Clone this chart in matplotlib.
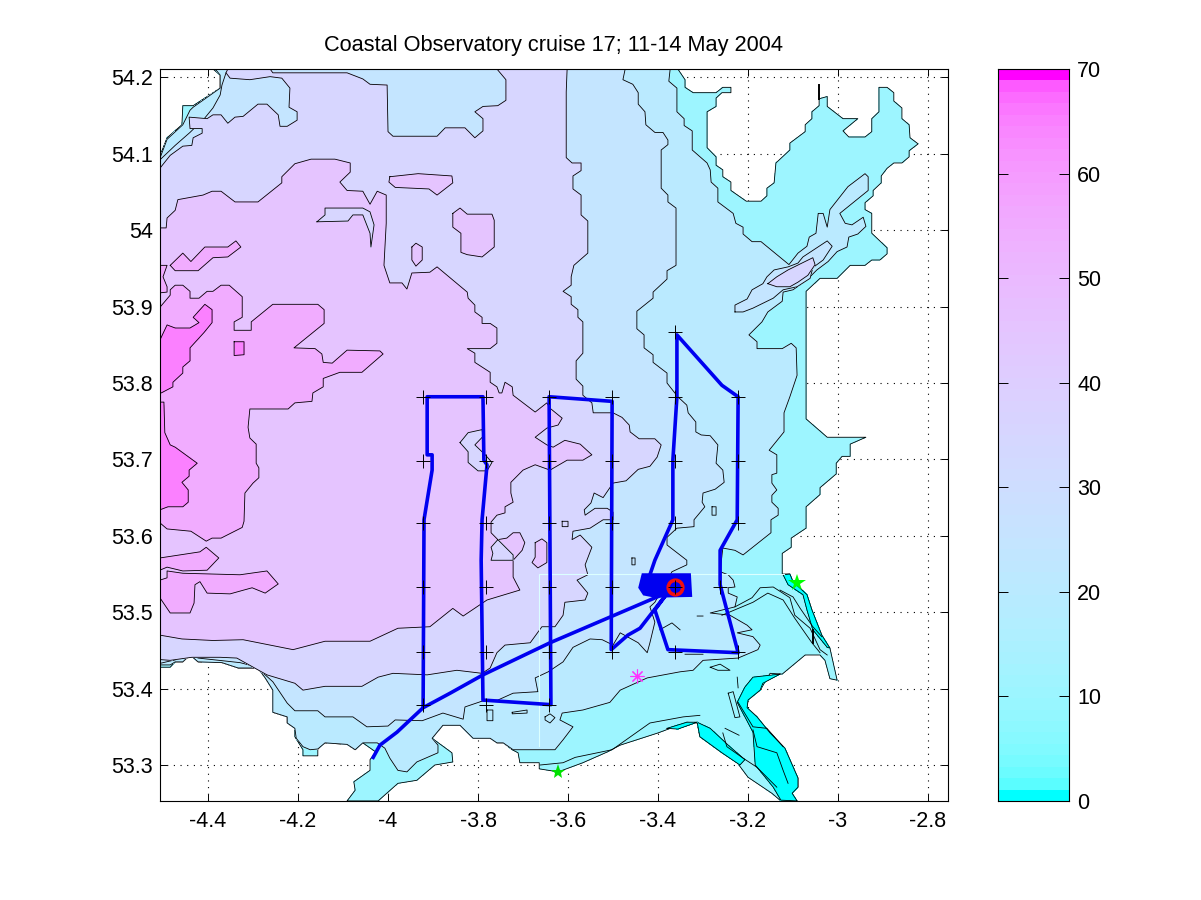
import numpy as np
import matplotlib
matplotlib.use("Agg")
import matplotlib.pyplot as plt
from matplotlib.colors import ListedColormap

plt.rcParams['font.family'] = ['Liberation Sans', 'DejaVu Sans']

TITLE = "Coastal Observatory cruise 17; 11-14 May 2004"
LON_TICKS = [-4.4, -4.2, -4.0, -3.8, -3.6, -3.4, -3.2, -3.0, -2.8]
LAT_TICKS = [53.3, 53.4, 53.5, 53.6, 53.7, 53.8, 53.9, 54.0, 54.1, 54.2]
CBAR_TICKS = [0, 10, 20, 30, 40, 50, 60, 70]

SEA = [(-4.507,54.097),(-4.491,54.121),(-4.458,54.138),(-4.456,54.163),(-4.433,54.163),(-4.373,54.186),(-4.373,54.203),(-4.389,54.211),(-3.356,54.211),(-3.340,54.197),(-3.340,54.187),(-3.322,54.180),(-3.271,54.180),(-3.256,54.187),(-3.238,54.187),(-3.238,54.180),(-3.258,54.180),(-3.271,54.173),(-3.271,54.162),(-3.291,54.155),(-3.291,54.108),(-3.271,54.096),(-3.271,54.085),(-3.256,54.079),(-3.256,54.070),(-3.238,54.063),(-3.238,54.052),(-3.204,54.038),(-3.171,54.038),(-3.158,54.045),(-3.158,54.055),(-3.142,54.062),(-3.138,54.088),(-3.107,54.105),(-3.107,54.114),(-3.073,54.129),(-3.073,54.138),(-3.058,54.146),(-3.058,54.155),(-3.042,54.163),(-3.042,54.172),(-3.024,54.175),(-3.024,54.162),(-2.989,54.146),(-2.956,54.146),(-2.989,54.130),(-2.976,54.122),(-2.940,54.122),(-2.925,54.129),(-2.925,54.146),(-2.909,54.155),(-2.909,54.187),(-2.891,54.187),(-2.876,54.180),(-2.876,54.169),(-2.858,54.160),(-2.858,54.146),(-2.842,54.138),(-2.840,54.121),(-2.822,54.113),(-2.842,54.104),(-2.842,54.096),(-2.858,54.088),(-2.876,54.088),(-2.891,54.081),(-2.904,54.071),(-2.904,54.062),(-2.922,54.052),(-2.922,54.045),(-2.940,54.036),(-2.940,54.027),(-2.925,54.022),(-2.925,53.996),(-2.891,53.977),(-2.891,53.969),(-2.907,53.961),(-2.925,53.961),(-2.940,53.954),(-2.973,53.954),(-3.002,53.937),(-3.040,53.937),(-3.071,53.920),(-3.071,53.753),(-3.024,53.729),(-2.938,53.729),(-2.973,53.720),(-2.973,53.704),(-2.991,53.704),(-3.004,53.695),(-3.004,53.681),(-3.040,53.663),(-3.040,53.654),(-3.071,53.638),(-3.071,53.610),(-3.104,53.597),(-3.104,53.585),(-3.124,53.577),(-3.124,53.550),(-3.107,53.550),(-3.100,53.540),(-3.069,53.523),(-3.058,53.503),(-3.036,53.470),(-3.018,53.453),(-3.002,53.411),(-3.018,53.413),(-3.029,53.437),(-3.040,53.444),(-3.073,53.444),(-3.124,53.419),(-3.151,53.420),(-3.173,53.398),(-3.200,53.385),(-3.202,53.375),(-3.180,53.363),(-3.151,53.342),(-3.118,53.322),(-3.089,53.283),(-3.089,53.271),(-3.102,53.263),(-3.091,53.253),(-3.127,53.253),(-3.147,53.263),(-3.200,53.284),(-3.224,53.303),(-3.258,53.316),(-3.307,53.337),(-3.313,53.355),(-3.336,53.356),(-3.400,53.342),(-3.484,53.326),(-3.513,53.317),(-3.567,53.303),(-3.622,53.291),(-3.664,53.295),(-3.664,53.303),(-3.707,53.303),(-3.711,53.316),(-3.724,53.320),(-3.744,53.329),(-3.758,53.329),(-3.773,53.335),(-3.811,53.335),(-3.840,53.352),(-3.878,53.352),(-3.902,53.335),(-3.858,53.316),(-3.856,53.304),(-3.896,53.300),(-3.936,53.280),(-3.978,53.276),(-4.022,53.253),(-4.091,53.253),(-4.073,53.267),(-4.076,53.278),(-4.040,53.293),(-4.040,53.307),(-4.027,53.317),(-4.056,53.329),(-4.073,53.320),(-4.091,53.327),(-4.140,53.329),(-4.156,53.321),(-4.156,53.312),(-4.189,53.312),(-4.189,53.320),(-4.207,53.337),(-4.207,53.348),(-4.224,53.355),(-4.224,53.363),(-4.256,53.369),(-4.256,53.398),(-4.273,53.414),(-4.289,53.427),(-4.333,53.427),(-4.369,53.434),(-4.422,53.435),(-4.440,53.444),(-4.456,53.435),(-4.473,53.435),(-4.484,53.428),(-4.507,53.428)]

SHALLOW = [
 [(-3.129,53.419),(-3.189,53.415),(-3.207,53.402),(-3.224,53.382),(-3.189,53.343),(-3.184,53.300),(-3.144,53.271),(-3.127,53.254),(-3.091,53.253),(-3.102,53.263),(-3.089,53.271),(-3.089,53.283),(-3.118,53.322),(-3.151,53.342),(-3.180,53.363),(-3.202,53.375),(-3.200,53.385),(-3.173,53.398),(-3.167,53.407)],
 [(-3.313,53.356),(-3.307,53.337),(-3.258,53.316),(-3.218,53.300),(-3.207,53.307),(-3.244,53.326),(-3.284,53.348)],
 [(-3.380,53.348),(-3.336,53.356),(-3.313,53.356),(-3.356,53.347)],
 [(-3.122,53.549),(-3.107,53.550),(-3.100,53.540),(-3.069,53.523),(-3.058,53.503),(-3.036,53.470),(-3.018,53.453),(-3.024,53.454),(-3.056,53.477),(-3.069,53.503),(-3.078,53.523),(-3.111,53.536)],
]

LEVEL20 = [(-4.507,54.094),(-4.491,54.119),(-4.456,54.138),(-4.440,54.157),(-4.433,54.161),(-4.373,54.186),(-4.373,54.203),(-4.384,54.211),(-3.373,54.211),(-3.376,54.195),(-3.358,54.186),(-3.358,54.155),(-3.342,54.146),(-3.342,54.137),(-3.324,54.130),(-3.324,54.105),(-3.291,54.088),(-3.284,54.079),(-3.282,54.063),(-3.267,54.055),(-3.267,54.037),(-3.233,54.022),(-3.227,54.009),(-3.211,54.004),(-3.211,53.995),(-3.191,53.985),(-3.171,53.985),(-3.109,53.955),(-3.089,53.970),(-3.069,53.979),(-3.064,53.991),(-3.049,53.996),(-3.044,54.022),(-3.033,54.022),(-3.024,54.004),(-3.018,54.027),(-2.978,54.057),(-2.940,54.074),(-2.933,54.070),(-2.933,54.052),(-2.996,54.022),(-2.984,54.009),(-2.969,54.007),(-2.944,54.017),(-2.938,54.005),(-2.956,53.995),(-2.976,53.991),(-2.980,53.978),(-3.002,53.972),(-3.022,53.959),(-3.047,53.948),(-3.069,53.935),(-3.100,53.922),(-3.122,53.919),(-3.124,53.907),(-3.156,53.893),(-3.169,53.880),(-3.198,53.863),(-3.180,53.854),(-3.180,53.845),(-3.124,53.845),(-3.104,53.852),(-3.093,53.846),(-3.091,53.810),(-3.107,53.782),(-3.120,53.761),(-3.120,53.736),(-3.153,53.712),(-3.136,53.706),(-3.136,53.682),(-3.147,53.680),(-3.147,53.669),(-3.136,53.660),(-3.147,53.653),(-3.147,53.644),(-3.133,53.636),(-3.133,53.627),(-3.149,53.621),(-3.149,53.604),(-3.211,53.575),(-3.229,53.581),(-3.256,53.584),(-3.262,53.553),(-3.244,53.549),(-3.233,53.542),(-3.229,53.533),(-3.244,53.532),(-3.244,53.525),(-3.224,53.520),(-3.229,53.507),(-3.284,53.499),(-3.240,53.496),(-3.202,53.483),(-3.191,53.477),(-3.224,53.473),(-3.189,53.468),(-3.173,53.457),(-3.178,53.451),(-3.222,53.440),(-3.300,53.437),(-3.322,53.424),(-3.351,53.422),(-3.424,53.414),(-3.484,53.398),(-3.507,53.382),(-3.567,53.372),(-3.613,53.368),(-3.618,53.359),(-3.589,53.350),(-3.611,53.333),(-3.629,53.320),(-3.664,53.320),(-3.722,53.320),(-3.744,53.329),(-3.758,53.329),(-3.773,53.335),(-3.811,53.335),(-3.840,53.352),(-3.878,53.352),(-3.902,53.335),(-3.889,53.326),(-3.889,53.316),(-3.936,53.304),(-3.958,53.291),(-3.978,53.293),(-3.996,53.309),(-4.007,53.322),(-4.024,53.329),(-4.056,53.329),(-4.073,53.320),(-4.091,53.327),(-4.140,53.329),(-4.156,53.321),(-4.173,53.320),(-4.189,53.324),(-4.204,53.335),(-4.207,53.348),(-4.224,53.355),(-4.224,53.363),(-4.256,53.369),(-4.256,53.398),(-4.273,53.414),(-4.289,53.427),(-4.333,53.427),(-4.369,53.434),(-4.422,53.435),(-4.440,53.444),(-4.456,53.435),(-4.473,53.435),(-4.484,53.431),(-4.507,53.431)]

LEVEL25 = [(-4.507,53.433),(-4.507,54.092),(-4.473,54.111),(-4.440,54.128),(-4.407,54.147),(-4.389,54.160),(-4.373,54.177),(-4.369,54.190),(-4.360,54.206),(-4.356,54.211),(-3.473,54.211),(-3.478,54.197),(-3.456,54.191),(-3.444,54.180),(-3.444,54.165),(-3.429,54.155),(-3.427,54.138),(-3.407,54.128),(-3.389,54.128),(-3.378,54.118),(-3.378,54.112),(-3.393,54.105),(-3.393,54.055),(-3.378,54.046),(-3.378,54.037),(-3.360,54.029),(-3.360,53.954),(-3.380,53.947),(-3.380,53.936),(-3.411,53.919),(-3.411,53.911),(-3.447,53.894),(-3.447,53.871),(-3.431,53.863),(-3.431,53.846),(-3.411,53.837),(-3.411,53.827),(-3.380,53.813),(-3.380,53.800),(-3.356,53.782),(-3.336,53.771),(-3.333,53.761),(-3.316,53.749),(-3.316,53.736),(-3.304,53.732),(-3.284,53.731),(-3.267,53.719),(-3.271,53.695),(-3.256,53.686),(-3.253,53.670),(-3.273,53.661),(-3.300,53.656),(-3.302,53.644),(-3.296,53.638),(-3.320,53.621),(-3.320,53.612),(-3.358,53.610),(-3.380,53.598),(-3.380,53.588),(-3.336,53.568),(-3.336,53.562),(-3.369,53.553),(-3.407,53.513),(-3.418,53.507),(-3.407,53.487),(-3.418,53.460),(-3.424,53.447),(-3.444,53.460),(-3.484,53.473),(-3.500,53.457),(-3.524,53.464),(-3.551,53.465),(-3.589,53.454),(-3.611,53.435),(-3.644,53.422),(-3.673,53.414),(-3.667,53.396),(-3.722,53.394),(-3.756,53.385),(-3.789,53.384),(-3.829,53.376),(-3.833,53.360),(-3.878,53.368),(-3.924,53.358),(-3.984,53.359),(-4.000,53.351),(-4.047,53.350),(-4.078,53.363),(-4.140,53.363),(-4.156,53.371),(-4.207,53.371),(-4.224,53.381),(-4.256,53.409),(-4.273,53.418),(-4.289,53.428),(-4.329,53.434),(-4.422,53.440),(-4.440,53.445),(-4.456,53.440)]

LEVEL35 = [(-4.507,53.438),(-4.507,54.081),(-4.484,54.098),(-4.456,54.110),(-4.436,54.111),(-4.433,54.121),(-4.413,54.127),(-4.413,54.133),(-4.440,54.133),(-4.442,54.148),(-4.402,54.146),(-4.389,54.151),(-4.371,54.151),(-4.356,54.140),(-4.340,54.148),(-4.322,54.149),(-4.289,54.165),(-4.269,54.165),(-4.244,54.151),(-4.240,54.136),(-4.224,54.136),(-4.202,54.144),(-4.202,54.155),(-4.220,54.161),(-4.218,54.186),(-4.236,54.199),(-4.262,54.201),(-4.307,54.197),(-4.351,54.199),(-4.360,54.206),(-4.356,54.211),(-4.262,54.211),(-4.256,54.206),(-4.091,54.206),(-4.056,54.198),(-4.040,54.191),(-4.002,54.190),(-4.000,54.129),(-3.989,54.123),(-3.891,54.123),(-3.873,54.134),(-3.829,54.134),(-3.807,54.121),(-3.789,54.130),(-3.789,54.146),(-3.807,54.155),(-3.789,54.162),(-3.756,54.163),(-3.738,54.170),(-3.738,54.197),(-3.758,54.211),(-3.602,54.211),(-3.604,54.181),(-3.604,54.095),(-3.591,54.088),(-3.571,54.088),(-3.571,54.078),(-3.589,54.071),(-3.589,54.054),(-3.571,54.046),(-3.571,54.020),(-3.556,54.012),(-3.556,53.970),(-3.587,53.954),(-3.593,53.939),(-3.593,53.928),(-3.611,53.920),(-3.593,53.913),(-3.593,53.903),(-3.578,53.896),(-3.578,53.886),(-3.567,53.880),(-3.567,53.839),(-3.582,53.829),(-3.582,53.805),(-3.567,53.796),(-3.567,53.784),(-3.547,53.774),(-3.544,53.761),(-3.500,53.761),(-3.480,53.755),(-3.464,53.745),(-3.462,53.736),(-3.442,53.727),(-3.407,53.727),(-3.393,53.719),(-3.402,53.703),(-3.418,53.691),(-3.444,53.687),(-3.471,53.672),(-3.500,53.669),(-3.522,53.650),(-3.542,53.656),(-3.549,53.643),(-3.564,53.634),(-3.562,53.627),(-3.540,53.636),(-3.513,53.636),(-3.500,53.631),(-3.500,53.621),(-3.522,53.621),(-3.551,53.610),(-3.589,53.606),(-3.591,53.595),(-3.573,53.601),(-3.547,53.585),(-3.562,53.562),(-3.556,53.549),(-3.580,53.542),(-3.556,53.525),(-3.562,53.516),(-3.607,53.513),(-3.611,53.496),(-3.629,53.481),(-3.658,53.481),(-3.684,53.460),(-3.740,53.457),(-3.758,53.447),(-3.773,53.427),(-3.791,53.420),(-3.847,53.424),(-3.913,53.418),(-3.989,53.420),(-4.022,53.415),(-4.058,53.403),(-4.140,53.403),(-4.189,53.398),(-4.207,53.407),(-4.269,53.418),(-4.336,53.440),(-4.373,53.441),(-4.436,53.441),(-4.484,53.437)]

LEVEL45 = [(-4.507,54.003),(-4.493,54.003),(-4.491,54.016),(-4.473,54.026),(-4.467,54.040),(-4.411,54.046),(-4.391,54.051),(-4.371,54.051),(-4.340,54.037),(-4.289,54.037),(-4.236,54.062),(-4.236,54.070),(-4.207,54.087),(-4.171,54.093),(-4.118,54.093),(-4.084,54.088),(-4.084,54.076),(-4.107,54.063),(-4.091,54.052),(-4.056,54.051),(-4.040,54.034),(-4.024,54.051),(-4.004,54.046),(-4.004,54.009),(-4.009,53.954),(-3.996,53.931),(-3.969,53.931),(-3.958,53.923),(-3.947,53.944),(-3.907,53.945),(-3.891,53.952),(-3.824,53.919),(-3.822,53.911),(-3.807,53.902),(-3.807,53.893),(-3.791,53.886),(-3.791,53.878),(-3.773,53.878),(-3.758,53.872),(-3.758,53.852),(-3.773,53.845),(-3.824,53.845),(-3.807,53.839),(-3.807,53.827),(-3.773,53.814),(-3.773,53.801),(-3.758,53.795),(-3.753,53.787),(-3.747,53.787),(-3.740,53.801),(-3.724,53.795),(-3.722,53.784),(-3.673,53.762),(-3.647,53.774),(-3.640,53.767),(-3.613,53.754),(-3.622,53.745),(-3.647,53.741),(-3.673,53.729),(-3.647,53.719),(-3.633,53.716),(-3.607,53.725),(-3.573,53.720),(-3.547,53.706),(-3.567,53.699),(-3.602,53.699),(-3.640,53.686),(-3.673,53.693),(-3.700,53.686),(-3.727,53.670),(-3.727,53.656),(-3.722,53.644),(-3.740,53.638),(-3.740,53.630),(-3.758,53.627),(-3.771,53.618),(-3.771,53.604),(-3.756,53.595),(-3.736,53.597),(-3.722,53.604),(-3.707,53.604),(-3.696,53.591),(-3.702,53.581),(-3.722,53.568),(-3.722,53.546),(-3.707,53.529),(-3.780,53.516),(-3.833,53.495),(-3.856,53.505),(-3.907,53.481),(-3.978,53.479),(-4.040,53.462),(-4.140,53.462),(-4.211,53.451),(-4.322,53.464),(-4.389,53.463),(-4.458,53.465),(-4.507,53.470)]

ISLANDS45 = [
 [(-3.996,54.070),(-3.933,54.074),(-3.858,54.071),(-3.856,54.062),(-3.891,54.046),(-3.909,54.054),(-3.984,54.056),(-3.998,54.063)],
 [(-3.856,54.022),(-3.840,54.029),(-3.824,54.021),(-3.769,54.021),(-3.764,54.013),(-3.764,53.978),(-3.791,53.965),(-3.824,53.968),(-3.838,53.971),(-3.838,53.996),(-3.856,54.004)],
 [(-3.947,53.978),(-3.938,53.983),(-3.924,53.978),(-3.924,53.961),(-3.938,53.953),(-3.947,53.961)],
 [(-3.673,53.591),(-3.658,53.596),(-3.647,53.591),(-3.647,53.565),(-3.667,53.558),(-3.680,53.565),(-3.673,53.572)],
]
HOLES35 = [
 [(-4.158,54.011),(-4.140,54.020),(-4.140,54.029),(-4.056,54.029),(-4.040,54.024),(-4.031,54.007),(-4.038,53.978),(-4.040,53.996),(-4.056,54.020),(-4.078,54.020),(-4.089,54.012)],
 [(-3.840,53.722),(-3.822,53.735),(-3.791,53.739),(-3.789,53.730),(-3.807,53.719),(-3.784,53.706),(-3.769,53.696),(-3.780,53.685),(-3.800,53.685),(-3.822,53.696),(-3.822,53.710)],
 [(-3.756,53.595),(-3.771,53.585),(-3.767,53.577),(-3.771,53.568),(-3.722,53.568),(-3.722,53.575)],
]
LUNE25 = [(-3.229,53.893),(-3.229,53.902),(-3.202,53.910),(-3.191,53.922),(-3.167,53.930),(-3.158,53.939),(-3.142,53.948),(-3.111,53.952),(-3.089,53.957),(-3.078,53.965),(-3.024,53.986),(-3.013,53.979),(-3.033,53.961),(-3.056,53.951),(-3.062,53.937),(-3.091,53.926),(-3.122,53.922),(-3.144,53.911),(-3.189,53.898),(-3.211,53.893)]
LUNE35 = [(-3.156,53.930),(-3.136,53.939),(-3.111,53.948),(-3.056,53.964),(-3.051,53.955),(-3.067,53.941),(-3.089,53.932),(-3.107,53.926),(-3.136,53.926)]

LEVEL55 = [
 [(-4.507,53.899),(-4.484,53.915),(-4.484,53.922),(-4.473,53.928),(-4.456,53.928),(-4.440,53.920),(-4.440,53.911),(-4.420,53.911),(-4.402,53.920),(-4.389,53.920),(-4.371,53.928),(-4.353,53.928),(-4.324,53.913),(-4.324,53.886),(-4.342,53.880),(-4.342,53.869),(-4.304,53.869),(-4.304,53.880),(-4.256,53.903),(-4.156,53.903),(-4.142,53.896),(-4.142,53.878),(-4.209,53.846),(-4.162,53.845),(-4.147,53.838),(-4.144,53.827),(-4.124,53.826),(-4.091,53.843),(-4.018,53.842),(-4.011,53.838),(-4.058,53.814),(-4.107,53.814),(-4.144,53.806),(-4.144,53.795),(-4.167,53.787),(-4.169,53.776),(-4.207,53.774),(-4.222,53.766),(-4.247,53.766),(-4.307,53.766),(-4.311,53.742),(-4.307,53.728),(-4.293,53.720),(-4.293,53.695),(-4.287,53.689),(-4.287,53.676),(-4.300,53.669),(-4.318,53.656),(-4.320,53.619),(-4.324,53.611),(-4.371,53.597),(-4.391,53.597),(-4.404,53.593),(-4.438,53.606),(-4.491,53.609),(-4.507,53.617)],
 [(-4.507,53.571),(-4.418,53.579),(-4.404,53.585),(-4.376,53.571),(-4.402,53.555),(-4.456,53.554),(-4.491,53.559),(-4.507,53.555)],
 [(-4.507,53.519),(-4.484,53.499),(-4.440,53.499),(-4.431,53.512),(-4.429,53.536),(-4.418,53.540),(-4.402,53.525),(-4.351,53.524),(-4.302,53.532),(-4.273,53.525),(-4.244,53.537),(-4.269,53.554),(-4.329,53.549),(-4.456,53.551),(-4.491,53.554),(-4.491,53.545),(-4.507,53.542)],
 [(-4.484,53.954),(-4.456,53.970),(-4.438,53.959),(-4.407,53.978),(-4.356,53.978),(-4.338,53.986),(-4.327,53.978),(-4.356,53.965),(-4.389,53.964),(-4.422,53.947),(-4.473,53.947)],
 [(-4.507,53.954),(-4.491,53.954),(-4.500,53.939),(-4.491,53.926),(-4.491,53.919),(-4.507,53.918)],
]
LEVEL65 = [
 [(-4.507,53.856),(-4.491,53.876),(-4.473,53.872),(-4.440,53.872),(-4.420,53.879),(-4.433,53.886),(-4.407,53.903),(-4.391,53.896),(-4.391,53.879),(-4.409,53.866),(-4.440,53.846),(-4.440,53.829),(-4.456,53.821),(-4.456,53.813),(-4.478,53.801),(-4.478,53.795),(-4.504,53.787),(-4.507,53.787)],
 [(-4.507,53.775),(-4.498,53.775),(-4.496,53.735),(-4.484,53.719),(-4.473,53.716),(-4.424,53.695),(-4.442,53.686),(-4.442,53.678),(-4.458,53.670),(-4.444,53.660),(-4.444,53.644),(-4.456,53.638),(-4.489,53.638),(-4.507,53.634)],
 [(-4.342,53.854),(-4.320,53.854),(-4.320,53.837),(-4.342,53.836)],
]

CONTOUR_LINES = [
 [(-3.229,53.507),(-3.191,53.519),(-3.173,53.532),(-3.144,53.533),(-3.107,53.519),(-3.096,53.496),(-3.062,53.479),(-3.040,53.451),(-3.024,53.444)],
 [(-3.258,53.496),(-3.189,53.513),(-3.156,53.525),(-3.122,53.516),(-3.096,53.492),(-3.058,53.460),(-3.040,53.447)],
 [(-3.129,53.529),(-3.100,53.520),(-3.084,53.505),(-3.056,53.481),(-3.036,53.468)],
 [(-3.662,53.300),(-3.611,53.303),(-3.584,53.310),(-3.502,53.320),(-3.418,53.355),(-3.344,53.363),(-3.307,53.365)],
 [(-3.256,53.342),(-3.247,53.324),(-3.211,53.309),(-3.180,53.297),(-3.136,53.271)],
 [(-3.189,53.346),(-3.180,53.324),(-3.136,53.316),(-3.122,53.293),(-3.111,53.276)],
 [(-3.222,53.382),(-3.189,53.350),(-3.158,53.348),(-3.122,53.324)],
 [(-3.251,53.348),(-3.220,53.339)],
 [(-3.224,53.415),(-3.222,53.401)],
 [(-3.313,53.495),(-3.300,53.495)],
 [(-3.340,53.445),(-3.300,53.445)],
 [(-3.396,53.477),(-3.369,53.486),(-3.351,53.477)],
]
SMALL_LOOPS = [
 [(-3.284,53.428),(-3.262,53.432),(-3.240,53.424),(-3.267,53.424),(-3.284,53.428)],
 [(-3.244,53.394),(-3.233,53.396),(-3.218,53.363),(-3.229,53.362),(-3.244,53.394)],
 [(-3.458,53.571),(-3.451,53.571),(-3.451,53.562),(-3.458,53.562),(-3.458,53.571)],
 [(-3.651,53.363),(-3.640,53.367),(-3.629,53.362),(-3.640,53.355),(-3.651,53.359),(-3.651,53.363)],
 [(-3.780,53.372),(-3.767,53.372),(-3.767,53.358),(-3.780,53.358),(-3.780,53.372)],
 [(-3.724,53.369),(-3.691,53.372),(-3.691,53.368),(-3.724,53.367),(-3.724,53.369)],
 [(-3.613,53.619),(-3.600,53.619),(-3.600,53.612),(-3.613,53.612),(-3.613,53.619)],
 [(-3.280,53.638),(-3.271,53.638),(-3.271,53.627),(-3.280,53.627),(-3.280,53.638)],
]
THICK_LINES = [[(-3.042,54.190),(-3.042,54.172)], [(-3.056,53.477),(-3.056,53.460)]]
NEST_BOX = [(-3.664,53.325),(-3.664,53.550),(-3.120,53.550)]

TRACK_MAIN = [(-3.922,53.376),(-3.920,53.621),(-3.902,53.686),(-3.902,53.706),(-3.913,53.706),(-3.913,53.782),(-3.789,53.782),(-3.787,53.699),(-3.780,53.693),(-3.791,53.621),(-3.793,53.568),(-3.789,53.385),(-3.638,53.379),(-3.642,53.782),(-3.502,53.776),(-3.504,53.451),(-3.467,53.470),(-3.440,53.479),(-3.378,53.526),(-3.407,53.503),(-3.378,53.451),(-3.222,53.447),(-3.262,53.536),(-3.262,53.581),(-3.224,53.621),(-3.222,53.782),(-3.258,53.797),(-3.358,53.863),(-3.358,53.782),(-3.367,53.699),(-3.367,53.621),(-3.407,53.568),(-3.418,53.549)]
TRACK_INSHORE = [(-4.033,53.310),(-4.018,53.326),(-3.980,53.343),(-3.922,53.375),(-3.862,53.394),(-3.789,53.418),(-3.640,53.460),(-3.418,53.516),(-3.378,53.526)]
MOORING_BLOB = [(-3.436,53.551),(-3.327,53.551),(-3.324,53.520),(-3.407,53.519),(-3.433,53.522),(-3.444,53.532)]

STATION_LON = [-3.922]*6 + [-3.782]*6 + [-3.642]*6 + [-3.502]*5 + [-3.362]*6 + [-3.222]*4 + [-3.262]
STATION_LAT = [53.782,53.698,53.617,53.533,53.448,53.379]*3 + [53.782,53.698,53.617,53.533,53.448] + [53.867,53.782,53.698,53.617,53.533,53.448] + [53.782,53.698,53.617,53.448] + [53.533]
MOORING = (-3.362, 53.533)
GREEN_STARS = [(-3.091, 53.538), (-3.622, 53.291)]
MAGENTA_STAR = (-3.447, 53.416)

# MATLAB brighten(cool, 0.75)
_t = np.linspace(0, 1, 64)
cmap = ListedColormap(np.c_[_t**0.25, (1 - _t)**0.25, np.ones(64)])
def col(v):
    return cmap(min(int(v / 70 * 64), 63))

fig = plt.figure(figsize=(12.01, 9.0), dpi=100, facecolor='white')
W, H = 1201.0, 900.0
ax = fig.add_axes([160/W, (H-801)/H, 788/W, 732/H])
ax.set_xlim(-4.5067, -2.7556)
ax.set_ylim(53.2529, 54.2110)
ax.set_axisbelow(True)
ax.grid(True, color='k', linestyle=(0, (1, 5)), linewidth=0.8)

z = 2
def poly(pts, level):
    global z
    xs, ys = zip(*pts)
    ax.fill(xs, ys, facecolor=col(level), edgecolor='none', linewidth=0, antialiased=False, zorder=z)
    ax.plot(list(xs) + [xs[0]], list(ys) + [ys[0]], color='k', lw=0.6, snap=False, zorder=z + 0.001)
    z += 0.01

poly(SEA, 10)
for p in SHALLOW:
    poly(p, 0)
poly(LEVEL20, 20)
poly(LEVEL25, 25)
poly(LEVEL35, 35)
poly(LEVEL45, 45)
for p in ISLANDS45:
    poly(p, 45)
for p in HOLES35:
    poly(p, 35)
poly(LUNE25, 25)
poly(LUNE35, 35)
for p in LEVEL55:
    poly(p, 55)
for p in LEVEL65:
    poly(p, 65)

for line in CONTOUR_LINES + SMALL_LOOPS:
    xs, ys = zip(*line)
    ax.plot(xs, ys, color='k', lw=0.6, snap=False, zorder=3)
for line in THICK_LINES:
    xs, ys = zip(*line)
    ax.plot(xs, ys, color='k', lw=1.4, zorder=3)

xs, ys = zip(*NEST_BOX)
ax.plot(xs, ys, color='#DCFFFF', lw=0.8, zorder=3.1)

xs, ys = zip(*TRACK_MAIN)
ax.plot(xs, ys, color='#0000F0', lw=2.6, solid_joinstyle='round', zorder=4)
xs, ys = zip(*TRACK_INSHORE)
ax.plot(xs, ys, color='#0000F0', lw=2.6, solid_joinstyle='round', zorder=4)
xs, ys = zip(*MOORING_BLOB)
ax.fill(xs, ys, color='#0000F0', lw=0, zorder=4)

ax.plot(MOORING[0], MOORING[1], 'o', mfc='none', mec='#F01010', mew=2.6, ms=10.5, zorder=5)
ax.plot(STATION_LON, STATION_LAT, '+', color='k', ms=10, mew=0.7, zorder=6)
ax.plot(*GREEN_STARS[0], '*', color='#00FF00', ms=13, mew=0, zorder=6)
ax.plot(*GREEN_STARS[1], '*', color='#00E000', ms=11, mew=0, zorder=6)
ax.plot(*MAGENTA_STAR, marker=(8, 2, 0), color='#FF30FF', ms=10, mew=0.8, zorder=6)

ax.set_xticks(LON_TICKS)
ax.set_yticks(LAT_TICKS)
ax.set_xticklabels([f"{v:g}" for v in LON_TICKS])
ax.set_yticklabels([f"{v:g}" for v in LAT_TICKS])
ax.tick_params(direction='in', length=5, width=0.7, top=True, right=True, labelsize=15.5)
ax.tick_params(axis='x', pad=7)
ax.tick_params(axis='y', pad=5)
for s in ax.spines.values():
    s.set_linewidth(0.8)
    s.set_zorder(20)
ax.set_title(TITLE, fontsize=15.7, pad=13)

cax = fig.add_axes([998/W, (H-801)/H, 71/W, 732/H])
cax.imshow(np.linspace(0, 70, 64)[:, None], origin='lower', aspect='auto', cmap=cmap,
           extent=[0, 1, 0, 70], interpolation='nearest', vmin=0, vmax=70)
cax.set_xticks([])
cax.yaxis.tick_right()
cax.set_yticks(CBAR_TICKS)
cax.set_yticklabels([str(v) for v in CBAR_TICKS])
cax.tick_params(direction='in', length=7, width=0.7, left=True, right=True, labelsize=15.5, pad=6)
for s in cax.spines.values():
    s.set_linewidth(0.8)

fig.savefig('out.png', dpi=100)
